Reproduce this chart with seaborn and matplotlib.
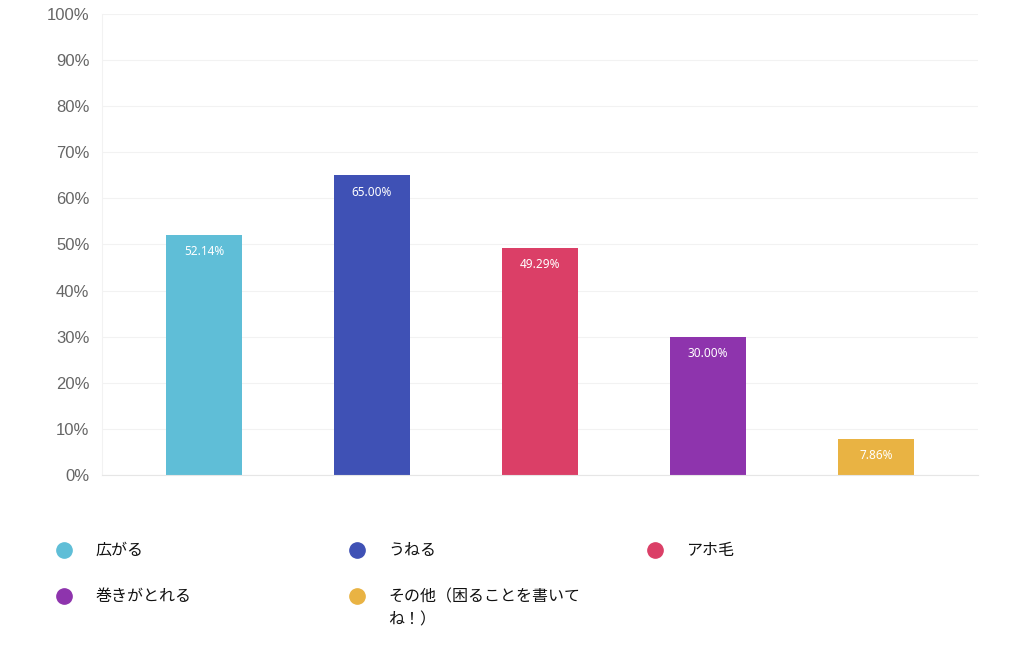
import matplotlib
matplotlib.use("Agg")
import matplotlib.pyplot as plt
from matplotlib.lines import Line2D
from matplotlib.ticker import FuncFormatter
import seaborn as sns
import pandas as pd

categories = ["広がる", "うねる", "アホ毛", "巻きがとれる", "その他（困ることを書いて\nね！）"]
values = [52.14, 65.00, 49.29, 30.00, 7.86]
colors = ["#5FBED7", "#3F51B5", "#DB3F67", "#8E34AD", "#E9B343"]
yticks = list(range(0, 101, 10))

sns.set_theme(style="white")
plt.rcParams['font.family'] = ['Liberation Sans', 'Noto Sans CJK JP', 'DejaVu Sans']

df = pd.DataFrame({"cat": categories, "val": values})

fig = plt.figure(figsize=(10.24, 6.63), dpi=100)
ax = fig.add_axes([102/1024, 1 - 475/663, (978-102)/1024, (475-14)/663])

sns.barplot(data=df, x="cat", y="val", hue="cat", palette=colors, width=0.45,
            legend=False, ax=ax, saturation=1, linewidth=0)

ax.set_xlim(-0.607, 4.607)
ax.set_ylim(0, 100)
ax.set_yticks(yticks)
ax.yaxis.set_major_formatter(FuncFormatter(lambda v, p: f"{int(v)}%"))
ax.tick_params(axis='y', labelsize=12, labelcolor="#666666", length=0, pad=9)
ax.set_xticks([])
ax.set_xlabel("")
ax.set_ylabel("")
ax.grid(axis='y', color="#f2f2f2", linewidth=0.8)
ax.set_axisbelow(True)
for s in ["top", "right"]:
    ax.spines[s].set_visible(False)
ax.spines["left"].set_color("#f2f2f2")
ax.spines["bottom"].set_color("#e6e6e6")
ax.spines["left"].set_linewidth(0.8)
ax.spines["bottom"].set_linewidth(0.8)

for c in ax.containers:
    ax.bar_label(c, fmt="{:.2f}%", padding=-17, color="white", fontsize=8.5,
                 fontweight="semibold", family=['Noto Sans', 'DejaVu Sans'])

# legend (manual layout)
pos = [(64, 550), (357, 550), (655, 550), (64, 596), (357, 596)]
for (px, py), lab, col in zip(pos, categories, colors):
    fig.add_artist(Line2D([px/1024], [1 - py/663], marker='o', markersize=11,
                          color=col, linestyle='none', transform=fig.transFigure))
    fig.text((px + 31)/1024, 1 - (py - 8)/663, lab, fontsize=11.5, color="#111111",
             va='top', ha='left', family=['Noto Sans CJK JP', 'DejaVu Sans'],
             linespacing=1.5)

fig.savefig("out.png", dpi=100, facecolor="white")
